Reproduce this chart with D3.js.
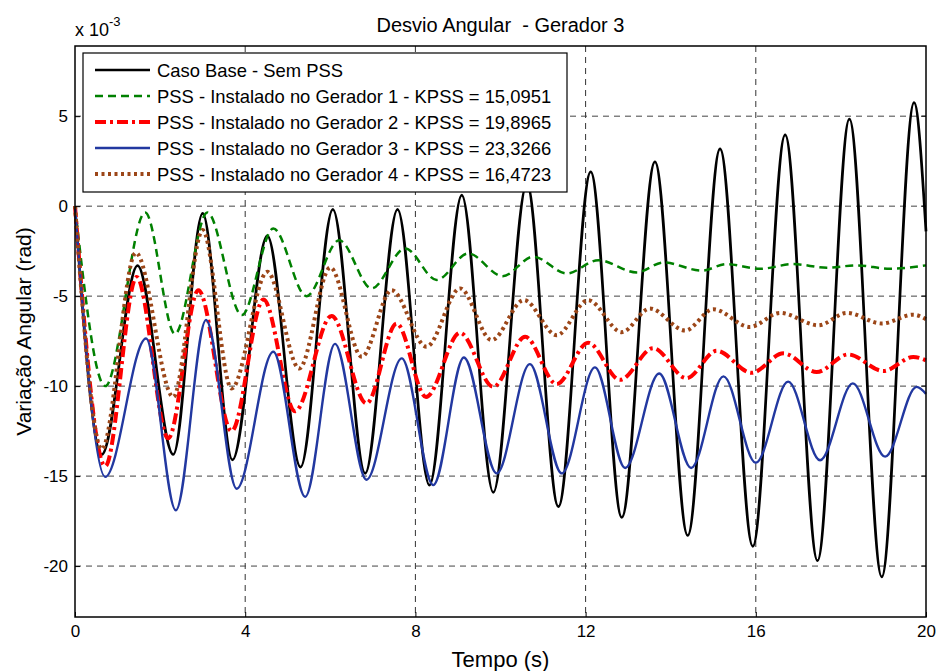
<!DOCTYPE html>
<html>
<head>
<meta charset="utf-8">
<script src="https://cdn.jsdelivr.net/npm/d3@7"></script>
<style>
  body { margin: 0; background: #fff; }
  text { font-family: "Liberation Sans", Arial, sans-serif; fill: #000; }
</style>
</head>
<body>
<script>
const width = 936;
const height = 671;

// extrema (time in s, value in 1e-3 rad)
const baseT = [0, 0.63, 1.47, 2.31, 3.0, 3.7, 4.52, 5.3, 6.06, 6.82, 7.58, 8.33, 9.09, 9.83, 10.62, 11.36, 12.12, 12.85, 13.63, 14.4, 15.16, 15.93, 16.69, 17.45, 18.2, 18.96, 19.72, 20];
const baseV = [0, -13.8, -3.3, -13.8, -0.4, -14.1, -1.65, -14.5, -0.18, -14.85, -0.18, -15.5, 0.61, -15.9, 1.25, -16.7, 1.91, -17.3, 2.46, -18.3, 3.18, -18.9, 3.96, -19.7, 4.84, -20.6, 5.75, -1.4];

const g1T = [0, 0.71, 1.65, 2.35, 3.11, 3.92, 4.66, 5.44, 6.21, 6.97, 7.76, 8.5, 9.24, 10.05, 10.77, 11.56, 12.3, 13.2, 13.83, 14.73, 15.31, 16.1, 16.88, 17.67, 18.37, 19.15, 20];
const g1V = [0, -10.0, -0.35, -7.1, -0.35, -6.05, -1.24, -5.0, -1.9, -4.57, -2.35, -4.1, -2.63, -3.89, -2.81, -3.74, -3.0, -3.68, -3.13, -3.58, -3.22, -3.48, -3.22, -3.42, -3.29, -3.48, -3.29];

const g2T = [0, 0.71, 1.45, 2.19, 2.9, 3.68, 4.43, 5.17, 6.03, 6.85, 7.56, 8.25, 9.05, 9.83, 10.58, 11.32, 12.06, 12.81, 13.59, 14.37, 15.08, 15.9, 16.65, 17.43, 18.17, 19.0, 19.7, 20];
const g2V = [0, -14.45, -3.93, -12.9, -4.67, -12.5, -5.19, -11.4, -6.1, -10.96, -6.52, -10.6, -7.04, -10.04, -7.26, -9.89, -7.59, -9.65, -7.89, -9.56, -8.04, -9.26, -8.18, -9.22, -8.24, -9.16, -8.38, -8.57];

const g3T = [0, 0.71, 1.67, 2.37, 3.08, 3.8, 4.66, 5.41, 6.11, 6.85, 7.68, 8.42, 9.14, 9.91, 10.69, 11.44, 12.22, 12.93, 13.73, 14.48, 15.24, 16.0, 16.76, 17.51, 18.28, 19.04, 19.78, 20];
const g3V = [0, -15.04, -7.35, -16.9, -6.33, -15.7, -8.09, -16.15, -7.65, -15.2, -8.46, -15.5, -8.41, -14.85, -8.78, -14.85, -8.96, -14.55, -9.3, -14.55, -9.46, -14.26, -9.75, -14.12, -9.85, -13.92, -10.04, -10.43];

const g4T = [0, 0.63, 1.43, 2.31, 3.0, 3.68, 4.52, 5.27, 6.0, 6.74, 7.44, 8.26, 9.05, 9.79, 10.55, 11.32, 12.06, 12.85, 13.51, 14.34, 15.0, 15.86, 16.57, 17.47, 18.14, 18.96, 19.7, 20];
const g4V = [0, -13.5, -2.59, -10.6, -1.33, -10.13, -3.65, -9.02, -3.41, -8.37, -4.67, -7.81, -4.57, -7.44, -5.22, -7.17, -5.22, -7.0, -5.69, -6.91, -5.73, -6.71, -5.93, -6.62, -5.93, -6.52, -6.03, -6.28];

const seriesNames = [
  'Caso Base - Sem PSS',
  'PSS - Instalado no Gerador 1 - KPSS = 15,0951',
  'PSS - Instalado no Gerador 2 - KPSS = 19,8965',
  'PSS - Instalado no Gerador 3 - KPSS = 23,3266',
  'PSS - Instalado no Gerador 4 - KPSS = 16,4723'
];
const xTicks = [0, 4, 8, 12, 16, 20];
const yTicks = [5, 0, -5, -10, -15, -20];

const styles = [
  { color: '#000000', width: 2.7, dash: null },
  { color: '#008000', width: 2.5, dash: '8,5' },
  { color: '#ff0000', width: 4, dash: '11,4,3,4' },
  { color: '#2238a0', width: 2.4, dash: null },
  { color: '#9c4618', width: 4, dash: '3,3.5' }
];

const margin = { left: 75, right: 10, top: 46, bottom: 54 };

const svg = d3.select('body').append('svg').attr('width', width).attr('height', height);

const x = d3.scaleLinear().domain([0, 20]).range([margin.left, width - margin.right]);
const y = d3.scaleLinear().domain([-22.83, 8.9]).range([height - margin.bottom, margin.top]);

// grid
const grid = svg.append('g');
grid.selectAll('line.vx')
  .data(xTicks.slice(1, -1))
  .enter()
  .append('line')
  .attr('x1', d => x(d)).attr('x2', d => x(d))
  .attr('y1', y.range()[1]).attr('y2', y.range()[0])
  .attr('stroke', '#333').attr('stroke-width', 1).attr('stroke-dasharray', '6,5');
grid.selectAll('line.hy')
  .data(yTicks)
  .enter()
  .append('line')
  .attr('x1', x.range()[0]).attr('x2', x.range()[1])
  .attr('y1', d => y(d)).attr('y2', d => y(d))
  .attr('stroke', '#444').attr('stroke-width', 1).attr('stroke-dasharray', '6,5');

// series
const allSeries = [[baseT, baseV], [g1T, g1V], [g2T, g2V], [g3T, g3V], [g4T, g4V]];
const line = d3.line().x(d => x(d[0])).y(d => y(d[1])).curve(d3.curveMonotoneX);

allSeries.forEach(([ts, vs], i) => {
  const pts = ts.map((t, k) => [t, vs[k]]);
  svg.append('path')
    .datum(pts)
    .attr('d', line)
    .attr('fill', 'none')
    .attr('stroke', styles[i].color)
    .attr('stroke-width', styles[i].width)
    .attr('stroke-dasharray', styles[i].dash)
    .attr('stroke-linejoin', 'round');
});

// axes (MATLAB style: ticks inward, on both sides)
const xAxis = d3.axisBottom(x).tickValues(xTicks).tickFormat(d => String(d))
  .tickSizeInner(-5).tickSizeOuter(0).tickPadding(8);
const gx = svg.append('g').attr('transform', `translate(0,${y.range()[0]})`).call(xAxis);
gx.select('.domain').remove();
gx.selectAll('text').style('font-size', '17px');

const yAxis = d3.axisLeft(y).tickValues(yTicks).tickFormat(d => String(d))
  .tickSizeInner(-5).tickSizeOuter(0).tickPadding(7);
const gy = svg.append('g').attr('transform', `translate(${x.range()[0]},0)`).call(yAxis);
gy.select('.domain').remove();
gy.selectAll('text').style('font-size', '17px');

svg.append('g')
  .selectAll('line')
  .data(yTicks)
  .enter()
  .append('line')
  .attr('x1', x.range()[1]).attr('x2', x.range()[1] - 5)
  .attr('y1', d => y(d)).attr('y2', d => y(d))
  .attr('stroke', '#000');

svg.append('rect')
  .attr('x', x.range()[0]).attr('y', y.range()[1])
  .attr('width', x.range()[1] - x.range()[0])
  .attr('height', y.range()[0] - y.range()[1])
  .attr('fill', 'none').attr('stroke', '#000').attr('stroke-width', 1.5);

// legend
const legend = svg.append('g').attr('transform', 'translate(83,53)');
legend.append('rect')
  .attr('width', 484).attr('height', 139)
  .attr('fill', '#fff').attr('stroke', '#000').attr('stroke-width', 1.2);
const rowY = (_, i) => 17 + i * 26;
legend.selectAll('line')
  .data(seriesNames)
  .enter()
  .append('line')
  .attr('x1', 12).attr('x2', 67)
  .attr('y1', rowY).attr('y2', rowY)
  .attr('stroke', (_, i) => styles[i].color)
  .attr('stroke-width', (_, i) => styles[i].width)
  .attr('stroke-dasharray', (_, i) => styles[i].dash);
legend.selectAll('text')
  .data(seriesNames)
  .enter()
  .append('text')
  .attr('x', 74)
  .attr('y', rowY)
  .attr('dy', '0.36em')
  .style('font-size', '18.4px')
  .text(d => d);

// titles
svg.append('text')
  .attr('x', (x.range()[0] + x.range()[1]) / 2).attr('y', 32)
  .attr('text-anchor', 'middle')
  .style('font-size', '20px')
  .style('white-space', 'pre')
  .text('Desvio Angular  - Gerador 3');

const expo = svg.append('text').attr('x', 75).attr('y', 36).style('font-size', '18px');
expo.append('tspan').text('x 10');
expo.append('tspan').attr('dy', -10).style('font-size', '13px').text('-3');

svg.append('text')
  .attr('x', (x.range()[0] + x.range()[1]) / 2).attr('y', 667)
  .attr('text-anchor', 'middle')
  .style('font-size', '22px')
  .text('Tempo (s)');

svg.append('text')
  .attr('transform', `translate(31,${(y.range()[0] + y.range()[1]) / 2}) rotate(-90)`)
  .attr('text-anchor', 'middle')
  .style('font-size', '21px')
  .text('Variação Angular (rad)');
</script>
</body>
</html>
